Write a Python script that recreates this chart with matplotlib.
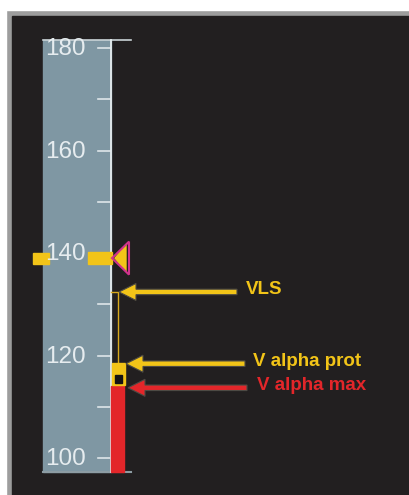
import matplotlib
matplotlib.use("Agg")
import matplotlib.pyplot as plt
from matplotlib.patches import Rectangle, Polygon, FancyArrow

# speed tape values (kt)
tick_values = [100, 110, 120, 130, 140, 150, 160, 170, 180]
label_values = [100, 120, 140, 160, 180]
speed_target = 139.0
vls = 132.4
v_alpha_prot = 118.5
v_alpha_max = 114.0
tape_top = 181.6
tape_bottom = 97.3

arrow_labels = ["VLS", "V alpha prot", "V alpha max"]
arrow_speeds = [vls, v_alpha_prot - 0.1, v_alpha_max - 0.3]
arrow_colors = ["#f2c418", "#f2c418", "#e3262a"]

# pixel scale of the tape
PX_PER_KT = 5.125
Y0 = 458.0  # pixel row of 100 kt


def px(dy):
    # pixel height -> kt
    return dy / PX_PER_KT


BG = "#221f20"
TAPE = "#7f97a3"
YEL = "#f2c418"
RED = "#e3262a"
MAG = "#d2338c"

fig = plt.figure(figsize=(4.09, 4.95), dpi=100, facecolor="white")
ax = fig.add_axes([0, 0, 1, 1])
ax.set_xlim(0, 409)
ax.set_ylim(100 - px(495 - Y0), 100 + px(Y0))
ax.axis("off")

ylo, yhi = ax.get_ylim()
# frame: grey border + dark panel
ax.add_patch(Rectangle((6, ylo - 1), 410, yhi - px(10) - ylo + 1, color="#9d9d9d", zorder=0))
ax.add_patch(Rectangle((12, ylo - 1), 410, yhi - px(16) - ylo + 1, color=BG, zorder=1))

# tape
ax.add_patch(Rectangle((43, tape_bottom), 68, tape_top - tape_bottom, color=TAPE, zorder=2))
ax.plot([43, 131], [tape_top, tape_top], color="#c9d2d6", lw=1.2, zorder=3)
ax.plot([43, 131], [tape_bottom, tape_bottom], color="#8d9ca3", lw=1.5, zorder=3)
ax.plot([111, 111], [tape_bottom, tape_top], color="#e6ecee", lw=1.3, zorder=4)

for v in tick_values:
    ax.plot([98, 110], [v, v], color="#dfe6e9", lw=1.2, zorder=3)
for v in label_values:
    ax.text(86, v - px(1), str(v), ha="right", va="center", fontsize=17.5,
            color="#e6ecef", family=["Liberation Sans", "DejaVu Sans"], zorder=5)

# speed target bug
ax.add_patch(Rectangle((33, speed_target - px(5.5)), 16, px(11), color=YEL, zorder=4))
ax.add_patch(Rectangle((88, speed_target - px(6)), 24, px(12), color=YEL, zorder=4))
ax.add_patch(Polygon([(115, speed_target), (126, speed_target + px(13)), (126, speed_target - px(13))],
                     closed=True, color=YEL, zorder=5))
ax.add_patch(Polygon([(112, speed_target), (129, speed_target + px(16.5)), (129, speed_target - px(16.5))],
                     closed=True, fill=False, edgecolor=MAG, lw=1.5, zorder=6))

# red alpha max strip
ax.add_patch(Rectangle((111, tape_bottom), 13, v_alpha_max - tape_bottom, color=RED, zorder=4))
# alpha prot: yellow bar + black square
ax.add_patch(Rectangle((112, v_alpha_max + px(1)), 13, v_alpha_prot - v_alpha_max - px(1),
                       color=YEL, zorder=5))
ax.add_patch(Rectangle((115, v_alpha_max + px(3)), 6.5, px(8), color="#141213", zorder=6))
# thin VLS trace
ax.plot([111, 118, 118], [vls, vls, v_alpha_prot], color="#d8a91c", lw=1.0, zorder=4)

# arrows and labels
tips = [119, 126, 128]
ends = [237, 245, 247]
text_x = [246, 253, 257]
for lab, v, c, tx, ex, lx in zip(arrow_labels, arrow_speeds, arrow_colors, tips, ends, text_x):
    ax.add_patch(FancyArrow(ex, v, tx - ex, 0, width=px(5.5), head_width=px(17),
                            head_length=17, length_includes_head=True,
                            facecolor=c, edgecolor="#4d4a44", lw=0.8, zorder=7))
    ax.text(lx, v + px(2.5), lab, ha="left", va="center", fontsize=13.5, fontweight="bold",
            color=c, family=["Liberation Sans", "DejaVu Sans"], zorder=7)

# white strips at top/left edge
ax.add_patch(Rectangle((0, yhi - px(10)), 410, px(11), color="white", zorder=8))
ax.add_patch(Rectangle((-1, ylo - 1), 7, yhi - ylo + 2, color="white", zorder=8))

fig.savefig("out.png", dpi=100, facecolor="white")
